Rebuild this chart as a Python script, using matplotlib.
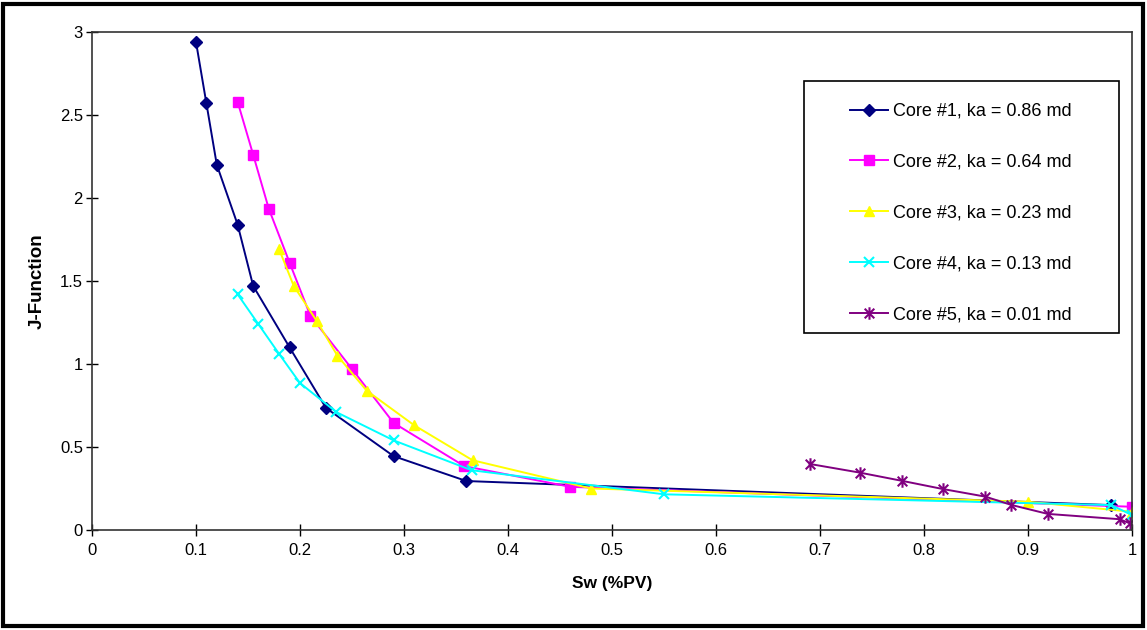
import matplotlib
matplotlib.use("Agg")
import matplotlib.pyplot as plt
from matplotlib.patches import Rectangle
from matplotlib.path import Path

plt.rcParams['font.family'] = ['Liberation Sans', 'DejaVu Sans']

# ---- data ----
core1_sw = [0.10, 0.11, 0.12, 0.14, 0.155, 0.19, 0.225, 0.29, 0.36, 0.98]
core1_j = [2.94, 2.57, 2.20, 1.84, 1.47, 1.10, 0.735, 0.445, 0.295, 0.15]

core2_sw = [0.14, 0.155, 0.17, 0.19, 0.21, 0.25, 0.29, 0.358, 0.46, 1.0]
core2_j = [2.58, 2.26, 1.935, 1.61, 1.29, 0.97, 0.645, 0.385, 0.26, 0.14]

core3_sw = [0.18, 0.194, 0.216, 0.236, 0.264, 0.31, 0.366, 0.48, 0.90, 1.0]
core3_j = [1.69, 1.47, 1.26, 1.05, 0.84, 0.63, 0.42, 0.25, 0.17, 0.11]

core4_sw = [0.14, 0.16, 0.18, 0.20, 0.235, 0.29, 0.365, 0.55, 0.98, 1.0]
core4_j = [1.42, 1.24, 1.06, 0.885, 0.71, 0.54, 0.36, 0.215, 0.15, 0.09]

core5_sw = [0.69, 0.738, 0.779, 0.818, 0.859, 0.884, 0.919, 0.988, 0.998]
core5_j = [0.398, 0.346, 0.296, 0.247, 0.201, 0.151, 0.097, 0.065, 0.04]

labels = ["Core #1, ka = 0.86 md", "Core #2, ka = 0.64 md", "Core #3, ka = 0.23 md",
          "Core #4, ka = 0.13 md", "Core #5, ka = 0.01 md"]
x_ticks = [0, 0.1, 0.2, 0.3, 0.4, 0.5, 0.6, 0.7, 0.8, 0.9, 1]
y_ticks = [0, 0.5, 1, 1.5, 2, 2.5, 3]

W, H = 1147, 630
fig = plt.figure(figsize=(W / 100, H / 100), dpi=100)
ax = fig.add_axes([92 / W, 1 - 530 / H, (1132 - 92) / W, (530 - 32) / H])

# asterisk marker: x with vertical bar
ast = Path([(-1, -1), (1, 1), (-1, 1), (1, -1), (0, -1.3), (0, 1.3)],
           [Path.MOVETO, Path.LINETO, Path.MOVETO, Path.LINETO, Path.MOVETO, Path.LINETO])

lw = 1.4
ax.plot(core1_sw, core1_j, color='#000080', lw=lw, marker='D', ms=6, label=labels[0])
ax.plot(core2_sw, core2_j, color='#FF00FF', lw=lw, marker='s', ms=7, label=labels[1])
ax.plot(core3_sw, core3_j, color='#FFFF00', lw=lw, marker='^', ms=7.5, label=labels[2])
ax.plot(core4_sw, core4_j, color='#00FFFF', lw=lw, marker='x', ms=7, mew=1.5, label=labels[3])
ax.plot(core5_sw, core5_j, color='#800080', lw=lw, marker=ast, ms=9, mew=1.5, label=labels[4])

ax.set_xlim(0, 1)
ax.set_ylim(0, 3)
ax.set_xticks(x_ticks)
ax.set_xticklabels([f"{v:g}" for v in x_ticks])
ax.set_yticks(y_ticks)
ax.set_yticklabels([f"{v:g}" for v in y_ticks])
ax.tick_params(axis='x', direction='inout', length=9, width=1, pad=5, labelsize=12)
ax.tick_params(axis='y', direction='inout', length=9, width=1, pad=2, labelsize=12)
for s in ax.spines.values():
    s.set_color('#333333')
    s.set_linewidth(1.2)

ax.set_xlabel("Sw (%PV)", fontsize=12.5, fontweight='bold', labelpad=13)
ax.set_ylabel("J-Function", fontsize=13.5, fontweight='bold', labelpad=10)

# legend box
fig.patches.append(Rectangle((804 / W, 1 - 333 / H), (1119 - 804) / W, (333 - 81) / H,
                             transform=fig.transFigure, fill=True, facecolor='white',
                             edgecolor='black', lw=1.2, zorder=5))
leg = fig.legend(loc='upper left', bbox_to_anchor=(850 / W, 1 - 103 / H), frameon=False,
                 borderpad=0, borderaxespad=0, fontsize=13, handlelength=2.1,
                 handletextpad=0.3, labelspacing=1.87)
leg.set_zorder(6)

# outer frame
fig.patches.append(Rectangle((3 / W, 4 / H), (1143 - 3) / W, (626 - 4) / H,
                             transform=fig.transFigure, fill=False,
                             edgecolor='black', lw=3))

fig.savefig("out.png", dpi=100)
